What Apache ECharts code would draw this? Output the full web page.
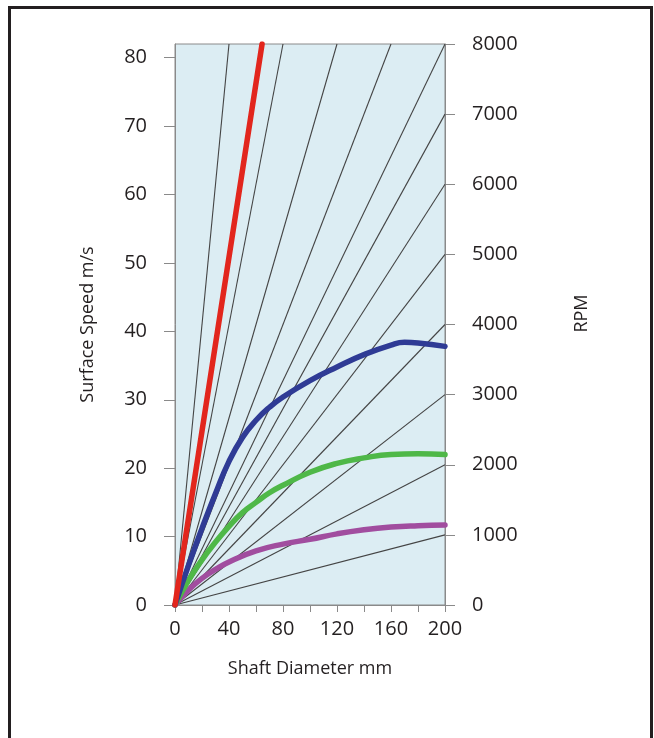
<!DOCTYPE html>
<html>
<head>
<meta charset="utf-8">
<script src="https://cdn.jsdelivr.net/npm/echarts@6/dist/echarts.min.js"></script>
<style>
html,body{margin:0;padding:0;background:#fff;}
#c{width:654px;height:738px;}
</style>
</head>
<body>
<div id="c"></div>
<script>
// ---- data ----
const xTicks = [0, 40, 80, 120, 160, 200];
const speedTicks = [0, 10, 20, 30, 40, 50, 60, 70, 80];
const rpmTicks = [0, 1000, 2000, 3000, 4000, 5000, 6000, 7000, 8000];
// fan reference lines: those ending on the right edge (RPM at D=200) and those ending on the top edge (diameter at 8000)
const fanRightRpm = [1000, 2000, 3000, 4000, 5000, 6000, 7000, 8000];
const fanTopDiameter = [40, 80, 120, 160];
const redLine = [[0, 0], [64.5, 82]];
const blueCurve = [[0,0],[10,5.8],[20,11.2],[30,16.3],[40,21],[50,24.5],[60,27],[70,28.9],[80,30.4],[100,32.8],[120,34.8],[140,36.6],[160,38],[170,38.4],[180,38.3],[200,37.8]];
const greenCurve = [[0,0],[10,3.6],[20,6.6],[30,9.2],[40,11.5],[50,13.5],[60,15],[70,16.4],[80,17.5],[100,19.4],[120,20.7],[140,21.5],[160,22],[180,22.1],[200,22]];
const purpleCurve = [[0,0],[10,2.2],[20,3.9],[30,5.2],[40,6.3],[60,7.9],[80,8.9],[100,9.6],[120,10.4],[140,11.0],[160,11.4],[180,11.6],[200,11.7]];

const FONT = "'Open Sans', 'Noto Sans', sans-serif";
const TXT = '#231f20';
const AX = '#8a8a8a';
const plain = v => String(v);

const series = [];
fanRightRpm.forEach(r => series.push({
  type: 'line', yAxisIndex: 1, data: [[0, 0], [200, r]], symbol: 'none', silent: true,
  lineStyle: {color: '#444444', width: 1.1}, z: 2
}));
fanTopDiameter.forEach(d => series.push({
  type: 'line', yAxisIndex: 1, data: [[0, 0], [d, 8000]], symbol: 'none', silent: true,
  lineStyle: {color: '#444444', width: 1.1}, z: 2
}));
function curve(data, color, smooth) {
  return {type: 'line', yAxisIndex: 0, data: data, symbol: 'none', smooth: smooth, clip: true,
    lineStyle: {color: color, width: 5.5, cap: 'round'}, z: 3};
}
series.push(curve(purpleCurve, '#a14d9f', true));
series.push(curve(greenCurve, '#4fb848', true));
series.push(curve(blueCurve, '#2f3b95', true));
series.push(curve(redLine, '#e2261d', false));

const chart = echarts.init(document.getElementById('c'), null, {renderer: 'canvas'});
chart.setOption({
  animation: false,
  backgroundColor: '#ffffff',
  grid: {left: 175, right: 209, top: 44, bottom: 133, show: true,
    backgroundColor: '#dcedf3', borderColor: AX, borderWidth: 1},
  xAxis: {
    type: 'value', min: 0, max: 200, interval: 40,
    name: 'Shaft Diameter mm', nameLocation: 'middle', nameGap: 55,
    nameTextStyle: {color: TXT, fontSize: 18, fontFamily: FONT},
    axisLine: {show: true, lineStyle: {color: AX}},
    axisTick: {show: true, length: 7, lineStyle: {color: AX}},
    minorTick: {show: true, splitNumber: 2, length: 7, lineStyle: {color: AX}},
    splitLine: {show: false},
    axisLabel: {color: TXT, fontSize: 20, fontFamily: FONT, margin: 14,
      customValues: xTicks, formatter: plain}
  },
  yAxis: [{
    type: 'value', min: 0, max: 82, position: 'left',
    name: 'Surface Speed m/s', nameLocation: 'middle', nameGap: 78, nameRotate: 90,
    nameTextStyle: {color: TXT, fontSize: 18, fontFamily: FONT},
    axisLine: {show: true, lineStyle: {color: AX}},
    axisTick: {show: true, length: 11, lineStyle: {color: AX}, customValues: speedTicks},
    splitLine: {show: false},
    axisLabel: {color: TXT, fontSize: 20, fontFamily: FONT, margin: 28, customValues: speedTicks, formatter: plain}
  }, {
    type: 'value', min: 0, max: 8000, position: 'right',
    name: 'RPM', nameLocation: 'middle', nameGap: 128, nameRotate: 90,
    nameTextStyle: {color: TXT, fontSize: 18, fontFamily: FONT, padding: [0, 0, 0, 22]},
    axisLine: {show: true, lineStyle: {color: AX}},
    axisTick: {show: true, length: 10, lineStyle: {color: AX}, customValues: rpmTicks},
    splitLine: {show: false},
    axisLabel: {color: TXT, fontSize: 20, fontFamily: FONT, margin: 27, customValues: rpmTicks, formatter: plain}
  }],
  graphic: [{
    type: 'polyline', silent: true,
    shape: {points: [[9.5, 760], [9.5, 7.5], [651.5, 7.5], [651.5, 760]]},
    style: {stroke: '#231f20', lineWidth: 3, fill: null}
  }],
  series: series
});
</script>
</body>
</html>
